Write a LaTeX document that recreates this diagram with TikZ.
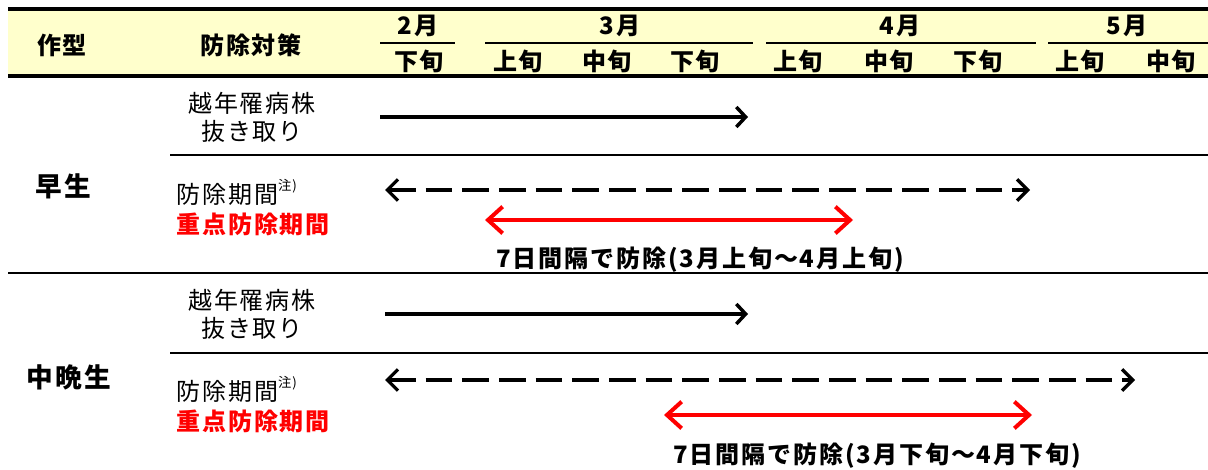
\documentclass[tikz,border=0pt]{standalone}
\usepackage{fontspec}
\usetikzlibrary{arrows.meta}
\newfontfamily\jp[LetterSpace=8]{Noto Sans CJK JP}
\definecolor{hdrfill}{RGB}{255,255,204}
\definecolor{keyred}{RGB}{255,0,0}
\begin{document}
\begin{tikzpicture}[x=0.75pt,y=-0.75pt,
  txt/.style={font=\jp\fontsize{18}{21}\selectfont, inner sep=0pt, align=center},
  btxt/.style={font=\jp\bfseries\fontsize{18}{21}\selectfont, inner sep=0pt},
  bigtxt/.style={font=\jp\bfseries\fontsize{20}{24}\selectfont, inner sep=0pt},
  rtxt/.style={btxt, text=keyred},
  thickrule/.style={line width=2.4pt},
  rule/.style={line width=1.7pt},
  monthrule/.style={line width=1.7pt},
  solidarrow/.style={line width=3pt, -{Straight Barb[length=7pt,width=15pt,line width=2.6pt]}},
  dasharrow/.style={line width=2.5pt, dash pattern=on 20pt off 7.5pt,
     {Straight Barb[length=8pt,width=16pt,line width=2.5pt]}-{Straight Barb[length=8pt,width=16pt,line width=2.5pt]}},
  redarrow/.style={line width=3pt, draw=keyred,
     {Straight Barb[length=11pt,width=20pt,line width=3pt]}-{Straight Barb[length=11pt,width=20pt,line width=3pt]}}
]
\useasboundingbox (0,0) rectangle (1208,470);
% header
\fill[hdrfill] (8,9) rectangle (1208,76);
\draw[thickrule] (8,9) -- (1208,9);
\draw[thickrule] (8,76) -- (1208,76);
\node[btxt] (h1) at (62,45) {作型};
\node[btxt] (h2) at (251,45) {防除対策};
\node[btxt] (m2) at (418,26) {2月};
\node[btxt] (m3) at (620,26) {3月};
\node[btxt] (m4) at (900,26) {4月};
\node[btxt] (m5) at (1127,26) {5月};
\draw[monthrule] (380,43) -- (455,43);
\draw[monthrule] (485,43) -- (753,43);
\draw[monthrule] (766,43) -- (1036,43);
\draw[monthrule] (1048,43) -- (1208,43);
\node[btxt] (d1) at (419,61) {下旬};
\node[btxt] (d2) at (518,61) {上旬};
\node[btxt] (d3) at (607,61) {中旬};
\node[btxt] (d4) at (695,61) {下旬};
\node[btxt] (d5) at (798,61) {上旬};
\node[btxt] (d6) at (889,61) {中旬};
\node[btxt] (d7) at (978,61) {下旬};
\node[btxt] (d8) at (1080,61) {上旬};
\node[btxt] (d9) at (1171,61) {中旬};
% section 1
\node[bigtxt] (s1) at (63,186) {早生};
\node[txt] (a1) at (252,117) {越年罹病株\\抜き取り};
\draw[rule] (170,155) -- (1208,155);
\node[txt, anchor=west] (p1) at (176,192) {防除期間\raisebox{0.55em}{\fontsize{10}{10}\selectfont 注)}};
\node[rtxt, anchor=west] (r1) at (176,224) {重点防除期間};
\node[btxt] (n1) at (700,260) {7日間隔で防除(3月上旬～4月上旬)};
\coordinate (b1s) at (380,117);
\coordinate (b1e) at (748,117);
\coordinate (k1s) at (385,190);
\coordinate (k1e) at (1030,190);
\coordinate (q1s) at (485,220);
\coordinate (q1e) at (853,220);
\draw[solidarrow] (b1s) -- (b1e);
\draw[dasharrow] (k1s) -- (k1e);
\draw[redarrow] (q1s) -- (q1e);
\draw[rule] (8,273) -- (1208,273);
% section 2
\node[bigtxt] (s2) at (69,377) {中晩生};
\node[txt] (a2) at (252,314) {越年罹病株\\抜き取り};
\draw[rule] (170,353) -- (1208,353);
\node[txt, anchor=west] (p2) at (176,389) {防除期間\raisebox{0.55em}{\fontsize{10}{10}\selectfont 注)}};
\node[rtxt, anchor=west] (r2) at (176,421) {重点防除期間};
\node[btxt] (n2) at (877,456) {7日間隔で防除(3月下旬～4月下旬)};
\coordinate (b2s) at (385,314);
\coordinate (b2e) at (748,314);
\coordinate (k2s) at (385,380);
\coordinate (k2e) at (1135,380);
\coordinate (q2s) at (664,415);
\coordinate (q2e) at (1032,415);
\draw[solidarrow] (b2s) -- (b2e);
\draw[dasharrow] (k2s) -- (k2e);
\draw[redarrow] (q2s) -- (q2e);
\end{tikzpicture}
\end{document}
